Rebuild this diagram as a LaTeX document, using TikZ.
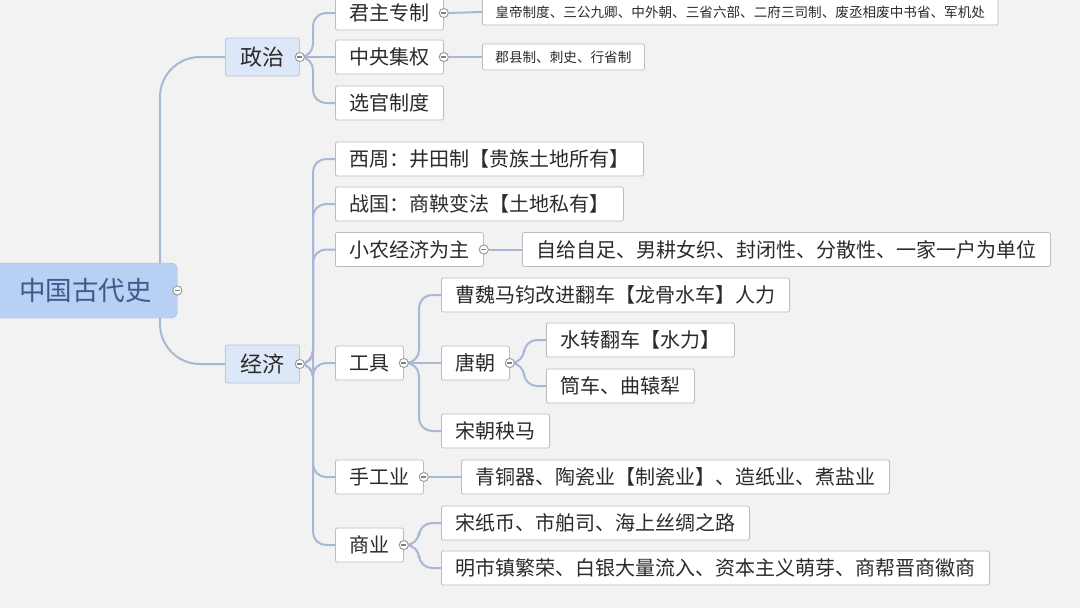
\documentclass[tikz,border=0pt]{standalone}
\usepackage{fontspec}
\setmainfont{Noto Sans CJK SC}
\usetikzlibrary{calc}
\definecolor{bg}{HTML}{F2F2F2}
\definecolor{ln}{HTML}{A9B7D6}
\definecolor{bd}{HTML}{BDBDBD}
\definecolor{tx}{HTML}{2B2B2B}
\definecolor{rootf}{HTML}{B7D0F4}
\definecolor{midf}{HTML}{DCE7F8}
\definecolor{roott}{HTML}{3D5A8A}
\tikzset{
  x=1pt,y=-1pt,
  box/.style={draw=bd,fill=white,rounded corners=2pt,anchor=west,inner xsep=14pt,inner ysep=0pt,minimum height=34pt,font=\fontsize{20}{20}\selectfont,text=tx,line width=0.8pt},
  sbox/.style={box,minimum height=26pt,inner xsep=13pt,font=\fontsize{13.6}{13.6}\selectfont},
  mid/.style={box,fill=midf,draw=ln!80,minimum height=38pt,inner xsep=15pt,font=\fontsize{22}{22}\selectfont},
  rootbox/.style={draw=ln,fill=rootf,rounded corners=6pt,anchor=west,minimum width=183pt,minimum height=55pt,font=\fontsize{26.5}{26.5}\selectfont,text=roott},
  mk/.style={circle,draw=gray!80,fill=white,inner sep=0pt,minimum size=9pt,line width=0.8pt,path picture={\draw[gray,line width=1.4pt] ([xshift=-2.5pt]path picture bounding box.center)--([xshift=2.5pt]path picture bounding box.center);}},
  conn/.style={draw=ln,line width=2pt,rounded corners=13pt}
}
\newcommand\cn[2]{\draw[conn] (#1.east) -| ($(#2.west)+(-22,0)$) -- (#2.west);}
\newcommand\sn[2]{\draw[conn] (#1.east) -- (#2.west);}
\begin{document}
\begin{tikzpicture}
\fill[bg] (0,0) rectangle (1080,608);
\useasboundingbox (0,0) rectangle (1080,608);
\node[rootbox] (root) at (-6,290.5) {中国古代史};
\node[mid] (zz) at (225,57) {政治};
\node[mid] (jj) at (225,364) {经济};
\draw[conn,rounded corners=40pt] (160,263) |- (zz.west);
\draw[conn,rounded corners=40pt] (160,318) |- (jj.west);
% politics
\node[box] (jz) at (335,13) {君主专制};
\node[box] (zy) at (335,57) {中央集权};
\node[box] (xg) at (335,103) {选官制度};
\node[sbox] (hd) at (482,12) {皇帝制度、三公九卿、中外朝、三省六部、二府三司制、废丞相废中书省、军机处};
\node[sbox] (jx) at (482,57) {郡县制、刺史、行省制};
% economy
\node[box] (xz) at (335,159) {西周：井田制【贵族土地所有】};
\node[box] (zg) at (335,204) {战国：商鞅变法【土地私有】};
\node[box] (xn) at (335,249.5) {小农经济为主};
\node[box] (zj) at (522,249.5) {自给自足、男耕女织、封闭性、分散性、一家一户为单位};
\node[box] (gj) at (335,363) {工具};
\node[box] (cw) at (441,295) {曹魏马钧改进翻车【龙骨水车】人力};
\node[box] (tc) at (441,363) {唐朝};
\node[box] (sz) at (546,340) {水转翻车【水力】};
\node[box] (tq) at (546,386) {筒车、曲辕犁};
\node[box] (ym) at (441,431) {宋朝秧马};
\node[box] (sg) at (335,477) {手工业};
\node[box] (qt) at (461,477) {青铜器、陶瓷业【制瓷业】、造纸业、煮盐业};
\node[box] (sy) at (335,545) {商业};
\node[box] (sb) at (441,523) {宋纸币、市舶司、海上丝绸之路};
\node[box] (ms) at (441,568) {明市镇繁荣、白银大量流入、资本主义萌芽、商帮晋商徽商};
% markers
\foreach \n in {root,zz,jj,jz,zy,xn,gj,tc,sg,sy} \node[mk] (m\n) at (\n.east) {};
\cn{mzz}{jz}\sn{mzz}{zy}\cn{mzz}{xg}
\sn{mjz}{hd}\sn{mzy}{jx}
\foreach \c in {xz,zg,xn,gj,sg,sy} \cn{mjj}{\c};
\sn{mxn}{zj}
\foreach \c in {cw,ym} \cn{mgj}{\c};
\sn{mgj}{tc}
\foreach \c in {sz,tq} \cn{mtc}{\c};
\sn{msg}{qt}
\foreach \c in {sb,ms} \cn{msy}{\c};
\foreach \n in {root,zz,jj,jz,zy,xn,gj,tc,sg,sy} \node[mk] at (\n.east) {};
\end{tikzpicture}
\end{document}
